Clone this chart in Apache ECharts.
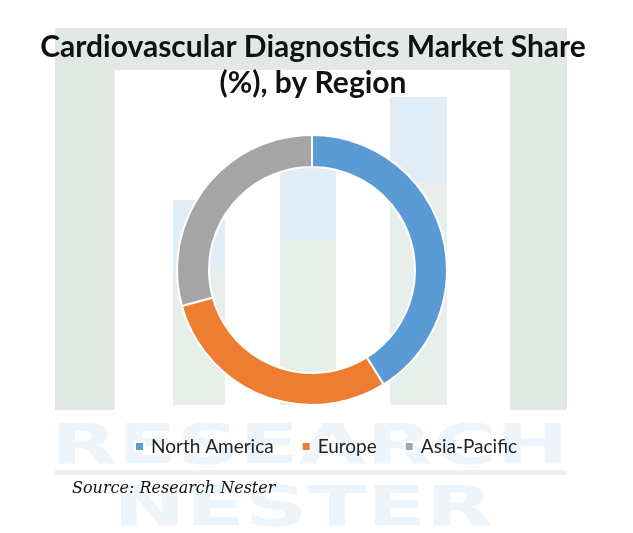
<!DOCTYPE html>
<html>
<head>
<meta charset="utf-8">
<script src="https://cdn.jsdelivr.net/npm/echarts@6/dist/echarts.min.js"></script>
<style>
html,body{margin:0;padding:0;background:#fff;}
#chart{width:633px;height:533px;}
</style>
</head>
<body>
<div id="chart"></div>
<script>
var titleLines = ['Cardiovascular Diagnostics Market Share', '(%), by Region'];
var regions = ['North America', 'Europe', 'Asia-Pacific'];
var shares = [41.1, 29.6, 29.3];
var colors = ['#5B9BD5', '#ED7D31', '#A5A5A5'];
var sourceText = 'Source: Research Nester';

var chart = echarts.init(document.getElementById('chart'), null, {renderer: 'canvas'});

var band = '#e2e9e4', paleBlue = '#e1edf6', paleGreen = '#e8eeea';
var watermark = [
  {type:'rect', shape:{x:55,y:28,width:512,height:382}, style:{fill:band}, z:-10, silent:true},
  {type:'rect', shape:{x:115,y:70,width:395,height:340}, style:{fill:'#ffffff'}, z:-9, silent:true},
  {type:'rect', shape:{x:173,y:200,width:52,height:205}, style:{fill:paleGreen}, z:-8, silent:true},
  {type:'rect', shape:{x:173,y:200,width:52,height:70}, style:{fill:paleBlue}, z:-7, silent:true},
  {type:'rect', shape:{x:280,y:160,width:56,height:245}, style:{fill:paleGreen}, z:-8, silent:true},
  {type:'rect', shape:{x:280,y:160,width:56,height:80}, style:{fill:paleBlue}, z:-7, silent:true},
  {type:'rect', shape:{x:390,y:97,width:57,height:308}, style:{fill:paleGreen}, z:-8, silent:true},
  {type:'rect', shape:{x:390,y:97,width:57,height:85}, style:{fill:paleBlue}, z:-7, silent:true},
  {type:'text', x:310, y:420, scaleX:1.55, originX:0, originY:0, style:{text:'RESEARCH', font:'bold 56px "DejaVu Sans"', fill:'#edf4fa', align:'center', textAlign:'center'}, z:-8, silent:true},
  {type:'rect', shape:{x:55,y:470,width:512,height:5}, style:{fill:'#eef2ef'}, z:-8, silent:true},
  {type:'text', x:303, y:482, scaleX:1.55, originX:0, originY:0, style:{text:'NESTER', font:'bold 56px "DejaVu Sans"', fill:'#edf4fa', align:'center', textAlign:'center'}, z:-8, silent:true},
  {type:'text', left:72, top:481, style:{text:sourceText, font:'italic 16px "DejaVu Serif"', fill:'#111'}, z:10}
];

chart.setOption({
  backgroundColor:'#ffffff',
  animation:false,
  color: colors,
  title: {
    text: titleLines.join('\n'),
    left:308,
    textAlign:'center',
    top:24,
    textStyle:{fontFamily:'Lato', fontWeight:'bold', fontSize:30, lineHeight:36, color:'#111'}
  },
  legend: {
    data: regions,
    top: 437,
    left: 134,
    padding: 0,
    icon: 'rect',
    itemWidth: 9,
    itemHeight: 9,
    itemGap: 27,
    textStyle:{fontFamily:'Lato', fontSize:19, color:'#222', padding:[0,0,0,2]}
  },
  graphic: watermark,
  series: [{
    type:'pie',
    center:[312,270],
    radius:[103,135],
    startAngle:90,
    clockwise:true,
    label:{show:false},
    labelLine:{show:false},
    itemStyle:{borderColor:'#ffffff', borderWidth:2},
    data: regions.map(function(r,i){return {name:r, value:shares[i]};})
  }]
});
</script>
</body>
</html>
